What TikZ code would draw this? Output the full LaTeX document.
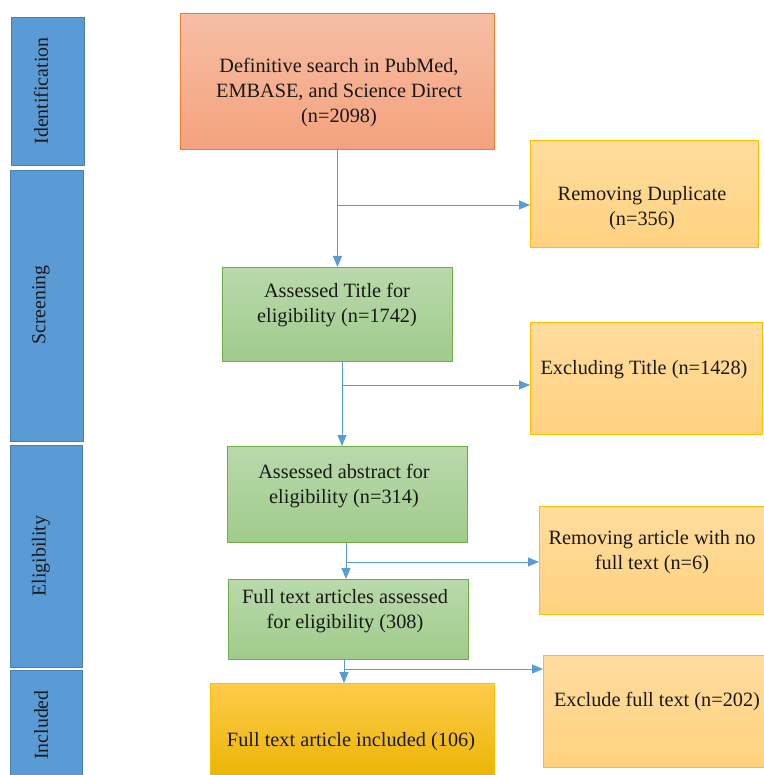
\documentclass[tikz,border=0pt]{standalone}
\usepackage{fontspec}
\setmainfont{Liberation Serif}
\usetikzlibrary{arrows.meta,calc}
\definecolor{bluefill}{HTML}{5B9BD5}
\definecolor{blueedge}{HTML}{4A7DB0}
\definecolor{orgtop}{HTML}{F7BEA5}
\definecolor{orgbot}{HTML}{F4A27D}
\definecolor{orgedge}{HTML}{ED7D31}
\definecolor{grntop}{HTML}{B9D9AB}
\definecolor{grnbot}{HTML}{A0CB8B}
\definecolor{grnedge}{HTML}{70AD47}
\definecolor{yeltop}{HTML}{FFDC9E}
\definecolor{yelbot}{HTML}{FFD27F}
\definecolor{yeledge}{HTML}{FFC000}
\definecolor{goldtop}{HTML}{FFCB4A}
\definecolor{goldbot}{HTML}{E9B400}
\definecolor{linkc}{HTML}{5B9BD5}
\tikzset{
  box/.style={rectangle, anchor=north west, inner sep=0pt, line width=0.9pt},
  phase/.style={box, fill=bluefill, draw=blueedge, line width=1.3pt},
  orgbox/.style={box, top color=orgtop, bottom color=orgbot, draw=orgedge},
  grnbox/.style={box, top color=grntop, bottom color=grnbot, draw=grnedge},
  yelbox/.style={box, top color=yeltop, bottom color=yelbot, draw=yeledge},
  goldbox/.style={box, top color=goldtop, bottom color=goldbot, draw=yeledge},
  txt/.style={align=center, font=\fontsize{20.3pt}{25pt}\selectfont, text=black!90, inner sep=0pt},
  ptxt/.style={txt, rotate=90, font=\fontsize{19.8pt}{24pt}\selectfont},
  link/.style={draw=linkc, line width=0.9pt},
  arr/.style={link, -{Triangle[length=11pt,width=9pt]}}
}
\begin{document}
\begin{tikzpicture}[x=1pt,y=-1pt]
\useasboundingbox (0,0) rectangle (763,775);
% phase bars
\node[phase, minimum width=73pt, minimum height=148pt] (pid) at (11,17) {};
\node[phase, minimum width=73pt, minimum height=271pt] (pscr) at (10,170) {};
\node[phase, minimum width=72pt, minimum height=222pt] (pelig) at (10,445) {};
\node[phase, minimum width=72pt, minimum height=110pt] (pinc) at (10,670) {};
\node[ptxt] (tid) at (41,91) {Identification};
\node[ptxt] (tscr) at (41,305) {Screening};
\node[ptxt] (telig) at (41,556) {Eligibility};
\node[ptxt] (tinc) at (41,725) {Included};
% main boxes
\node[orgbox, minimum width=314pt, minimum height=136pt] (search) at (180,13) {};
\node[yelbox, minimum width=228pt, minimum height=107pt] (dup) at (530,140) {};
\node[grnbox, minimum width=230pt, minimum height=94pt] (title) at (222,267) {};
\node[yelbox, minimum width=232pt, minimum height=112pt] (extitle) at (530,322) {};
\node[grnbox, minimum width=240pt, minimum height=96pt] (abs) at (227,446) {};
\node[yelbox, minimum width=226pt, minimum height=108pt] (nofull) at (539,506) {};
\node[grnbox, minimum width=240pt, minimum height=80pt] (full) at (228,579) {};
\node[yelbox, minimum width=222pt, minimum height=112pt] (exfull) at (543,655) {};
\node[goldbox, minimum width=284pt, minimum height=100pt] (inc) at (210,683) {};
% texts
\node[txt] (tsearch) at (339,93) {Definitive search in PubMed,\\EMBASE, and Science Direct\\(n=2098)};
\node[txt] (tdup) at (642,208) {Removing Duplicate\\(n=356)};
\node[txt] (ttitle) at (337,305) {Assessed Title for\\eligibility (n=1742)};
\node[txt] (textitle) at (644,370) {Excluding Title (n=1428)};
\node[txt] (tabs) at (344,486) {Assessed abstract for\\eligibility (n=314)};
\node[txt] (tnofull) at (652,552) {Removing article with no\\full text (n=6)};
\node[txt] (tfull) at (345,611) {Full text articles assessed\\for eligibility (308)};
\node[txt] (texfull) at (657,702) {Exclude full text (n=202)};
\node[txt] (tinctext) at (351,742) {Full text article included (106)};
% connectors
\coordinate (b1) at (337,205);
\coordinate (b2) at (342,385);
\coordinate (b3) at (346,562);
\coordinate (b4) at (344,669);
\draw[arr] (search.south) -- (title.north);
\draw[arr] (b1) -- (b1 -| dup.west);
\draw[arr] (b2 |- title.south) -- (b2 |- abs.north);
\draw[arr] (b2) -- (b2 -| extitle.west);
\draw[arr] (b3 |- abs.south) -- (b3 |- full.north);
\draw[arr] (b3) -- (b3 -| nofull.west);
\draw[arr] (b4 |- full.south) -- (b4 |- inc.north);
\draw[arr] (b4) -- (b4 -| exfull.west);
\end{tikzpicture}
\end{document}
